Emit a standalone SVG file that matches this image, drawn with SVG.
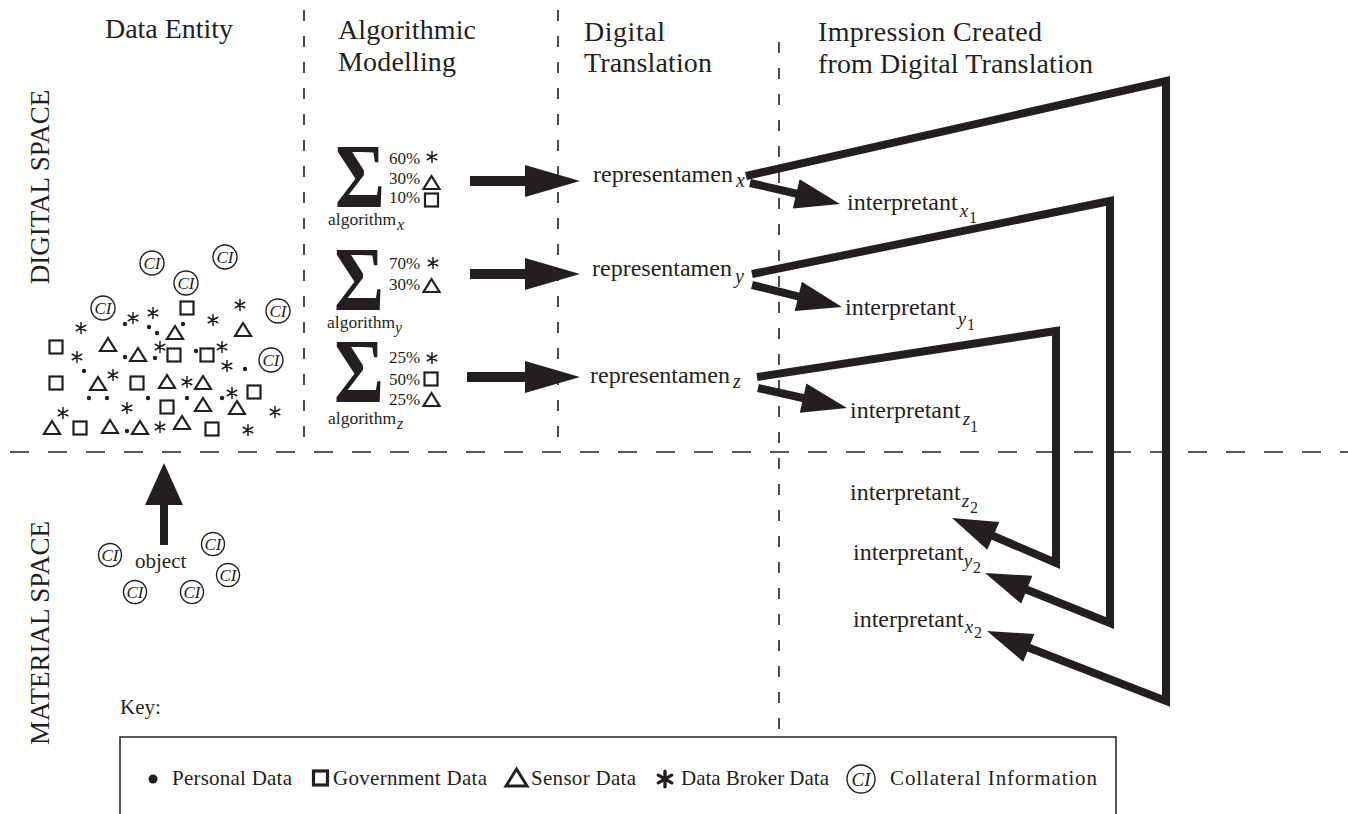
<svg xmlns="http://www.w3.org/2000/svg" xmlns:xlink="http://www.w3.org/1999/xlink" width="1348" height="814" viewBox="0 0 1348 814">
<style>
.t{font-family:"Liberation Serif","DejaVu Serif",serif;fill:#231f20}
.hd{font-size:28px}
.lb{font-size:24px}
.it{font-style:italic}
.pc{font-size:17px}
.al{font-size:17.5px}
.ky{font-size:21px}
.sp{font-size:27px}
.sig{font-family:"Liberation Serif","DejaVu Serif",serif;font-size:90px;font-weight:bold;fill:#231f20}
.dv{stroke:#231f20;stroke-width:1.6;stroke-dasharray:11 15;fill:none}
.dh{stroke:#231f20;stroke-width:1.6;stroke-dasharray:19 19;fill:none}
.thk{stroke:#231f20;stroke-width:8;fill:none;stroke-linejoin:miter;stroke-miterlimit:10}
.shf{stroke:#231f20;stroke-width:10;fill:none}
.shs{stroke:#231f20;stroke-width:8;fill:none}
.hed{fill:#231f20}
.sym{fill:none;stroke:#231f20;stroke-width:2.2}
.ast{fill:none;stroke:#231f20;stroke-width:1.5;stroke-linecap:round}
.dot{fill:#231f20}
.ci circle{fill:none;stroke:#231f20;stroke-width:1.4}
.ci text{font-family:"Liberation Serif","DejaVu Serif",serif;font-style:italic;font-size:17px;fill:#231f20;text-anchor:middle}
</style>
<defs>
<polygon id="tri" points="0,-7 8,6 -8,6"/>
<rect id="sq" x="-6.5" y="-6.5" width="13" height="13"/>
<path id="ast" d="M0,-5.5V5.5M-4.8,-2.75L4.8,2.75M-4.8,2.75L4.8,-2.75"/>
</defs>
<rect width="1348" height="814" fill="#ffffff"/>

<g id="dividers">
<line x1="304" y1="10" x2="304" y2="452" class="dv"/>
<line x1="558" y1="10" x2="558" y2="452" class="dv"/>
<line x1="779" y1="42" x2="779" y2="737" class="dv"/>
<line x1="10" y1="452" x2="1348" y2="452" class="dh"/>
</g>

<g id="headers">
<text class="t hd" x="105" y="38" textLength="128">Data Entity</text>
<text class="t hd" x="338" y="39" textLength="138">Algorithmic</text>
<text class="t hd" x="338" y="71" textLength="118">Modelling</text>
<text class="t hd" x="584" y="41" textLength="81">Digital</text>
<text class="t hd" x="584" y="72" textLength="128">Translation</text>
<text class="t hd" x="818" y="41" textLength="224">Impression Created</text>
<text class="t hd" x="818" y="73" textLength="275">from Digital Translation</text>
</g>

<g id="space-labels">
<text class="t sp" transform="translate(49,187) rotate(-90)" text-anchor="middle">DIGITAL SPACE</text>
<text class="t sp" transform="translate(49,633) rotate(-90)" text-anchor="middle">MATERIAL SPACE</text>
</g>

<g id="data-entity">
<g class="ci"><circle cx="152" cy="263" r="12"/><text x="152" y="269">CI</text></g>
<g class="ci"><circle cx="225" cy="257" r="12"/><text x="225" y="263">CI</text></g>
<g class="ci"><circle cx="186" cy="283" r="12"/><text x="186" y="289">CI</text></g>
<g class="ci"><circle cx="103" cy="308" r="12"/><text x="103" y="314">CI</text></g>
<g class="ci"><circle cx="278" cy="311" r="12"/><text x="278" y="317">CI</text></g>
<g class="ci"><circle cx="271" cy="360" r="12"/><text x="271" y="366">CI</text></g>
<g class="sym">
<use href="#sq" x="187" y="308"/><use href="#sq" x="56" y="347"/><use href="#sq" x="174" y="355"/>
<use href="#sq" x="207" y="355"/><use href="#sq" x="56" y="383"/><use href="#sq" x="137" y="383"/>
<use href="#sq" x="254" y="392"/><use href="#sq" x="167" y="407"/><use href="#sq" x="80" y="428"/>
<use href="#sq" x="212" y="429"/>
<use href="#tri" x="175" y="333"/><use href="#tri" x="243" y="330"/><use href="#tri" x="108" y="345"/>
<use href="#tri" x="138" y="355"/><use href="#tri" x="98" y="384"/><use href="#tri" x="167" y="382"/>
<use href="#tri" x="203" y="383"/><use href="#tri" x="203" y="405"/><use href="#tri" x="237" y="408"/>
<use href="#tri" x="52" y="428"/><use href="#tri" x="110" y="427"/><use href="#tri" x="140" y="428"/>
<use href="#tri" x="182" y="423"/>
</g>
<g class="ast">
<use href="#ast" x="133" y="318"/><use href="#ast" x="153" y="313"/><use href="#ast" x="81" y="328"/>
<use href="#ast" x="240" y="305"/><use href="#ast" x="213" y="320"/><use href="#ast" x="160" y="347"/>
<use href="#ast" x="222" y="347"/><use href="#ast" x="77" y="357"/><use href="#ast" x="227" y="366"/>
<use href="#ast" x="113" y="375"/><use href="#ast" x="187" y="382"/><use href="#ast" x="232" y="393"/>
<use href="#ast" x="127" y="408"/><use href="#ast" x="275" y="412"/><use href="#ast" x="63" y="413"/>
<use href="#ast" x="160" y="427"/><use href="#ast" x="248" y="430"/>
</g>
<g class="dot">
<circle cx="125" cy="324" r="2.2"/><circle cx="149" cy="327" r="2.2"/><circle cx="157" cy="333" r="2.2"/>
<circle cx="183" cy="324" r="2.2"/><circle cx="125" cy="357" r="2.2"/><circle cx="155" cy="358" r="2.2"/>
<circle cx="196" cy="351" r="2.2"/><circle cx="84" cy="371" r="2.2"/><circle cx="245" cy="369" r="2.2"/>
<circle cx="89" cy="398" r="2.2"/><circle cx="107" cy="398" r="2.2"/><circle cx="148" cy="398" r="2.2"/>
<circle cx="187" cy="398" r="2.2"/><circle cx="222" cy="398" r="2.2"/><circle cx="127" cy="431" r="2.2"/>
</g>
</g>

<g id="object">
<text class="t" x="135" y="568" font-size="21">object</text>
<g class="ci"><circle cx="110" cy="555" r="11.5"/><text x="110" y="561">CI</text></g>
<g class="ci"><circle cx="213" cy="544" r="11.5"/><text x="213" y="550">CI</text></g>
<g class="ci"><circle cx="228" cy="575" r="11.5"/><text x="228" y="581">CI</text></g>
<g class="ci"><circle cx="135" cy="592" r="11.5"/><text x="135" y="598">CI</text></g>
<g class="ci"><circle cx="192" cy="592" r="11.5"/><text x="192" y="598">CI</text></g>
</g>

<g id="algorithm-x">
<text class="sig" transform="translate(360,207) scale(0.85,1)" text-anchor="middle">Σ</text>
<text class="t pc" x="389" y="164">60%</text><use href="#ast" x="432" y="157" class="ast"/>
<text class="t pc" x="389" y="184">30%</text><use href="#tri" x="431.5" y="183" class="sym"/>
<text class="t pc" x="389" y="203">10%</text><use href="#sq" x="431.5" y="200" class="sym"/>
<text class="t al" x="328" y="225">algorithm<tspan class="it" x="397" y="230" font-size="16">x</tspan></text>
</g>
<g id="algorithm-y">
<text class="sig" transform="translate(359,310) scale(0.85,1)" text-anchor="middle">Σ</text>
<text class="t pc" x="389" y="269">70%</text><use href="#ast" x="433" y="263" class="ast"/>
<text class="t pc" x="389" y="290">30%</text><use href="#tri" x="431.5" y="286" class="sym"/>
<text class="t al" x="327" y="328">algorithm<tspan class="it" x="395" y="333" font-size="16">y</tspan></text>
</g>
<g id="algorithm-z">
<text class="sig" transform="translate(359,402) scale(0.85,1)" text-anchor="middle">Σ</text>
<text class="t pc" x="389" y="363">25%</text><use href="#ast" x="432" y="358" class="ast"/>
<text class="t pc" x="389" y="385">50%</text><use href="#sq" x="431" y="379" class="sym"/>
<text class="t pc" x="389" y="405">25%</text><use href="#tri" x="431.5" y="400" class="sym"/>
<text class="t al" x="328" y="424">algorithm<tspan class="it" x="397" y="429" font-size="16">z</tspan></text>
</g>

<g id="rep-x"><text class="t lb" x="593" y="182">representamen<tspan class="it" dx="3" dy="5" font-size="20">x</tspan></text></g>
<g id="rep-y"><text class="t lb" x="592" y="276">representamen<tspan class="it" dx="3" dy="7" font-size="20">y</tspan></text></g>
<g id="rep-z"><text class="t lb" x="590" y="383">representamen<tspan class="it" dx="3" dy="5" font-size="20">z</tspan></text></g>

<g id="int-x1"><text class="t lb" x="847" y="210">interpretant<tspan class="it" dx="2" dy="7" font-size="19">x</tspan><tspan dx="1" dy="6" font-size="16">1</tspan></text></g>
<g id="int-y1"><text class="t lb" x="845" y="315">interpretant<tspan class="it" dx="2" dy="10" font-size="19">y</tspan><tspan dx="1" dy="5" font-size="16">1</tspan></text></g>
<g id="int-z1"><text class="t lb" x="850" y="418">interpretant<tspan class="it" dx="2" dy="7" font-size="19">z</tspan><tspan dx="0" dy="7" font-size="16">1</tspan></text></g>
<g id="int-z2"><text class="t lb" x="850" y="500">interpretant<tspan class="it" dx="1" dy="7" font-size="19">z</tspan><tspan dx="1" dy="6" font-size="16">2</tspan></text></g>
<g id="int-y2"><text class="t lb" x="853" y="560">interpretant<tspan class="it" dx="0" dy="7" font-size="19">y</tspan><tspan dx="1" dy="6" font-size="16">2</tspan></text></g>
<g id="int-x2"><text class="t lb" x="853" y="627">interpretant<tspan class="it" dx="1" dy="6" font-size="19">x</tspan><tspan dx="1" dy="5" font-size="16">2</tspan></text></g>

<g id="connectors">
<line class="shs" x1="164" y1="545" x2="164" y2="500"/>
<polygon class="hed" points="164,463 145,505 183,505"/>
<line class="shf" x1="470" y1="181" x2="528" y2="181"/>
<polygon class="hed" points="580,181 525,165 525,197"/>
<line class="shf" x1="470" y1="274" x2="528" y2="274"/>
<polygon class="hed" points="580,274 525,258 525,290"/>
<line class="shf" x1="467" y1="377" x2="528" y2="377"/>
<polygon class="hed" points="580,377 525,361 525,393"/>
<line class="shs" x1="750" y1="183" x2="798" y2="194"/>
<polygon class="hed" points="840,204 792.8,208.4 799.6,179.2"/>
<line class="shs" x1="752" y1="285" x2="800" y2="296.8"/>
<polygon class="hed" points="842,307 794.7,310.9 801.9,281.7"/>
<line class="shs" x1="758" y1="388" x2="805" y2="398.5"/>
<polygon class="hed" points="847,408 799.8,412.7 806.4,383.5"/>
<path class="thk" d="M746,176 L1166,81 L1166,701 L1027,647"/>
<polygon class="hed" points="987,631 1034.4,633.9 1023.2,661.7"/>
<path class="thk" d="M752,274 L1110,201 L1110,623 L1025,589"/>
<polygon class="hed" points="985,573 1032.4,575.8 1021.2,603.6"/>
<path class="thk" d="M757,377 L1056,331 L1056,563 L991,535"/>
<polygon class="hed" points="952,518 999.3,522.1 987.3,549.7"/>
</g>

<g id="key">
<text class="t" x="120" y="714" font-size="21">Key:</text>
<path d="M120,814 V737 H1116 V814" fill="none" stroke="#231f20" stroke-width="1.5"/>
<circle cx="153" cy="779" r="4.5" class="dot"/>
<text class="t ky" x="172" y="785" textLength="120">Personal Data</text>
<rect x="313.5" y="771" width="14" height="14" fill="none" stroke="#231f20" stroke-width="3.2"/>
<text class="t ky" x="333" y="785" textLength="154">Government Data</text>
<polygon points="516.5,769 527,786 506,786" fill="none" stroke="#231f20" stroke-width="3"/>
<text class="t ky" x="531" y="785" textLength="105">Sensor Data</text>
<use href="#ast" transform="translate(665,779) scale(1.4)" class="ast" style="stroke-width:2.4"/>
<text class="t ky" x="681" y="785" textLength="148">Data Broker Data</text>
<g class="ci"><circle cx="861" cy="779" r="14"/><text x="861" y="786" style="font-size:19px">CI</text></g>
<text class="t ky" x="890" y="785" textLength="207">Collateral Information</text>
</g>
</svg>
